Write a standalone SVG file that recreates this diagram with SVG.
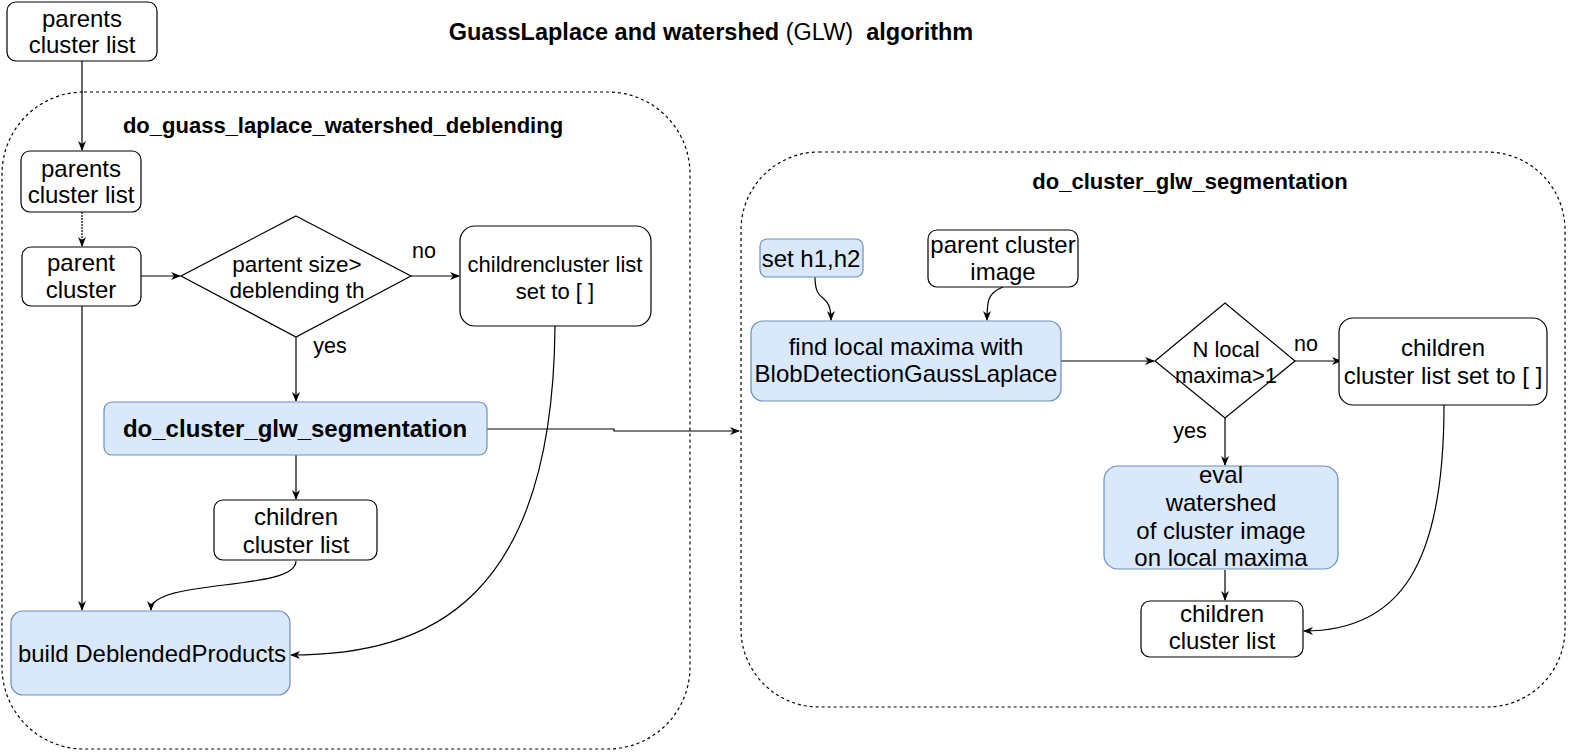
<svg xmlns="http://www.w3.org/2000/svg" width="1573" height="753" viewBox="0 0 1573 753">
<style>
text{font-family:"Liberation Sans",Arial,sans-serif;font-size:24px;fill:#000;text-anchor:middle}
.b{font-weight:bold}
.w{fill:#fff;stroke:#000;stroke-width:1.2}
.blue{fill:#dae8fc;stroke:#6c8ebf;stroke-width:1.2}
.dia{fill:#fff;stroke:#000;stroke-width:1.2}
.cont{fill:none;stroke:#000;stroke-width:1.2;stroke-dasharray:3 3}
.e{fill:none;stroke:#000;stroke-width:1.2;marker-end:url(#ah)}
</style>
<defs>
<marker id="ah" viewBox="0 0 10 8" refX="9" refY="4" markerWidth="10" markerHeight="8" markerUnits="userSpaceOnUse" orient="auto">
<path d="M0,0 L10,4 L0,8 L3,4 z" fill="#000"/>
</marker>
</defs>
<rect width="1573" height="753" fill="#fff"/>
<text x="711" y="40" xml:space="preserve" style="font-size:23.5px"><tspan class="b">GuassLaplace and watershed</tspan> (GLW)  <tspan class="b">algorithm</tspan></text>

<g id="container1">
<rect class="cont" x="2" y="92" width="688" height="657" rx="82" ry="82"/>
<text class="b" x="343" y="133" style="font-size:22px">do_guass_laplace_watershed_deblending</text>
</g>
<g id="container2">
<rect class="cont" x="741" y="152" width="824" height="555" rx="78" ry="78"/>
<text class="b" x="1190" y="189" style="font-size:22px">do_cluster_glw_segmentation</text>
</g>

<g id="connectors">
<path class="e" d="M82 61 L82 150"/>
<path class="e" d="M82 212 L82 246" stroke-dasharray="2 1"/>
<path class="e" d="M141 276 L180 276"/>
<path class="e" d="M411 276 L459 276"/>
<path class="e" d="M296 337 L296 401"/>
<path class="e" d="M296 455 L296 499"/>
<path class="e" d="M82 306 L82 610"/>
<path class="e" d="M296 561 C296 592 151 578 151 610"/>
<path class="e" d="M555 326 C553 600 430 655 291 655"/>
<path class="e" d="M487 429 L614 429 L614 431 L739 431"/>
<path class="e" d="M815 277 C815 306 831 290 831 320"/>
<path class="e" d="M1003 287 C988 293 987 300 987 320"/>
<path class="e" d="M1061 361 L1154 361"/>
<path class="e" d="M1295 361 L1341 361"/>
<path class="e" d="M1225 418 L1225 465"/>
<path class="e" d="M1225 570 L1225 600"/>
<path class="e" d="M1444 405 C1444 565 1400 631 1304 631"/>
<text x="424" y="258" style="font-size:21.5px">no</text>
<text x="330" y="353" style="font-size:21.5px">yes</text>
<text x="1306" y="351" style="font-size:21.5px">no</text>
<text x="1190" y="438" style="font-size:21.5px">yes</text>
</g>

<g id="n1">
<rect class="w" x="7" y="2" width="150" height="59" rx="9"/>
<text x="82" y="27">parents</text>
<text x="82" y="53">cluster list</text>
</g>
<g id="n2">
<rect class="w" x="21" y="151" width="120" height="61" rx="9"/>
<text x="81" y="177">parents</text>
<text x="81" y="203">cluster list</text>
</g>
<g id="n3">
<rect class="w" x="22" y="247" width="119" height="59" rx="9"/>
<text x="81" y="271">parent</text>
<text x="81" y="298">cluster</text>
</g>
<g id="n4">
<polygon class="dia" points="296,216 411,276 296,337 181,276"/>
<text x="297" y="272" style="font-size:22.5px">partent size&gt;</text>
<text x="297" y="298" style="font-size:22.5px">deblending th</text>
</g>
<g id="n5">
<rect class="w" x="460" y="226" width="191" height="100" rx="15"/>
<text x="555" y="272" style="font-size:22px">childrencluster list</text>
<text x="555" y="299" style="font-size:22px">set to [ ]</text>
</g>
<g id="n6">
<rect class="blue" x="104" y="402" width="383" height="53" rx="8"/>
<text class="b" x="295" y="437">do_cluster_glw_segmentation</text>
</g>
<g id="n7">
<rect class="w" x="214" y="500" width="163" height="60" rx="9"/>
<text x="296" y="525">children</text>
<text x="296" y="553">cluster list</text>
</g>
<g id="n8">
<rect class="blue" x="11" y="611" width="279" height="84" rx="12"/>
<text x="152" y="662">build DeblendedProducts</text>
</g>
<g id="n9">
<rect class="blue" x="760" y="239" width="103" height="38" rx="7"/>
<text x="811" y="267">set h1,h2</text>
</g>
<g id="n10">
<rect class="w" x="928" y="230" width="150" height="57" rx="9"/>
<text x="1003" y="253">parent cluster</text>
<text x="1003" y="280">image</text>
</g>
<g id="n11">
<rect class="blue" x="751" y="321" width="310" height="80" rx="12"/>
<text x="906" y="355">find local maxima with</text>
<text x="906" y="382">BlobDetectionGaussLaplace</text>
</g>
<g id="n12">
<polygon class="dia" points="1225,303 1295,361 1225,418 1155,361"/>
<text x="1226" y="357" style="font-size:22px">N local</text>
<text x="1226" y="383" style="font-size:22px">maxima&gt;1</text>
</g>
<g id="n13">
<rect class="w" x="1339" y="318" width="208" height="87" rx="14"/>
<text x="1443" y="356">children</text>
<text x="1443" y="384">cluster list set to [ ]</text>
</g>
<g id="n14">
<rect class="blue" x="1104" y="466" width="234" height="103" rx="14"/>
<text x="1221" y="483">eval</text>
<text x="1221" y="511">watershed</text>
<text x="1221" y="539">of cluster image</text>
<text x="1221" y="566">on local maxima</text>
</g>
<g id="n15">
<rect class="w" x="1141" y="601" width="162" height="56" rx="9"/>
<text x="1222" y="622">children</text>
<text x="1222" y="649">cluster list</text>
</g>
</svg>
